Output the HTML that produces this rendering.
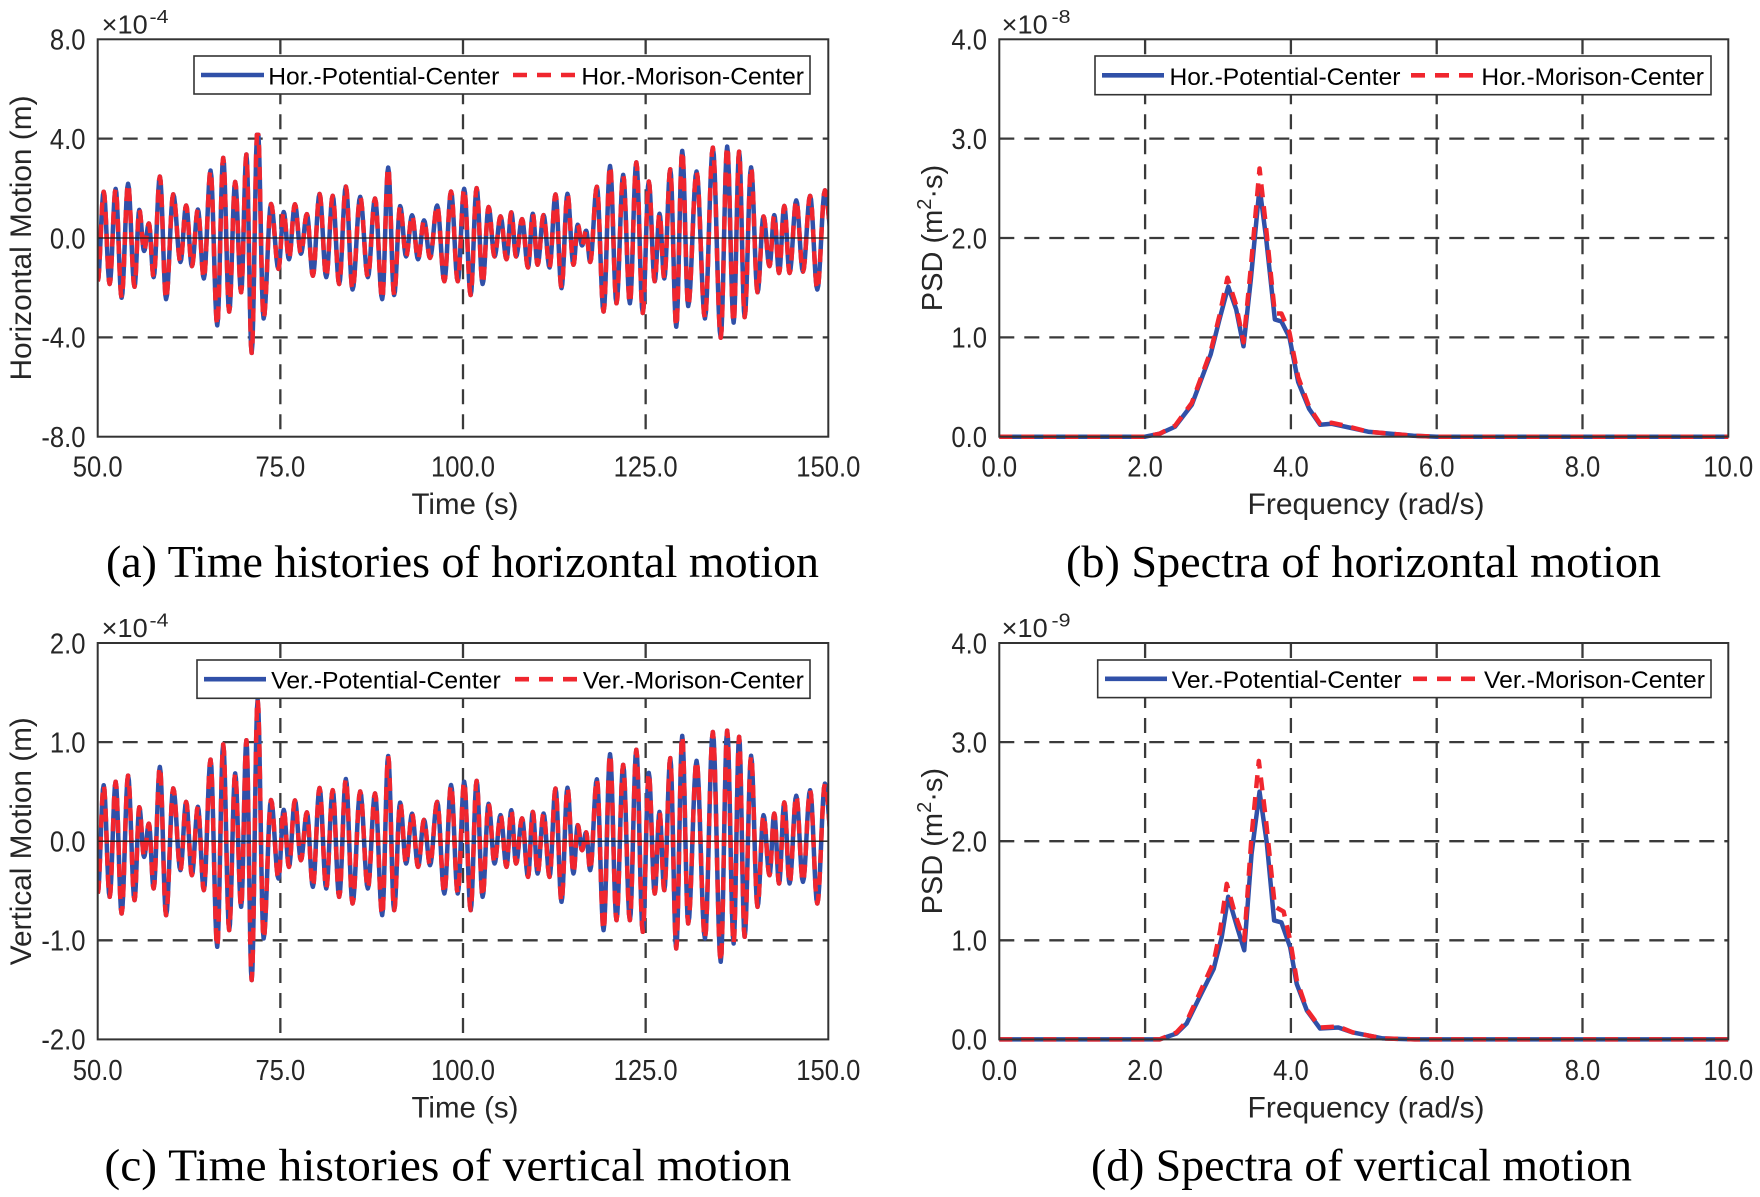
<!DOCTYPE html>
<html><head><meta charset="utf-8">
<style>
html,body{margin:0;padding:0;background:#fff;}
svg{display:block}
text{font-family:"Liberation Sans",Arial,sans-serif;fill:#262626}
.cap{font-family:"Liberation Serif","Times New Roman",serif;fill:#000;font-size:45px}
.tk{font-size:28.5px}
.lg{font-size:24.5px;fill:#000}
.al{font-size:29.5px}
.ex{font-size:26px}
.sp{font-size:18px}
.grid{stroke:#3a3a3a;stroke-width:2.3;stroke-dasharray:15 10;fill:none}
.zero{stroke:#1a1a1a;stroke-width:1.3;fill:none}
.ax{stroke:#333;stroke-width:2;fill:none}
.blue{stroke:#3050a8;stroke-width:4.5;fill:none;stroke-linejoin:round}
.red{stroke:#f0262e;stroke-width:4.5;fill:none;stroke-dasharray:13 9;stroke-linejoin:round}
.lb{stroke:#3050a8;stroke-width:4.6;fill:none}
.lr{stroke:#f0262e;stroke-width:4.6;fill:none;stroke-dasharray:14 10}
.lbox{fill:#fff;stroke:#333;stroke-width:1.6}
</style></head><body>
<svg id="s" width="1760" height="1197" viewBox="0 0 1760 1197" xmlns="http://www.w3.org/2000/svg">
<defs>
<clipPath id="ca"><rect x="97.7" y="30" width="730.6" height="415"/></clipPath>
<clipPath id="cc"><rect x="97.7" y="634" width="730.6" height="415"/></clipPath>
</defs>
<rect x="0" y="0" width="1760" height="1197" fill="#fff"/>

<!-- ========== PANEL A ========== -->
<g>
<line class="grid" x1="280.35" y1="39.3" x2="280.35" y2="436.7"/>
<line class="grid" x1="463" y1="39.3" x2="463" y2="436.7"/>
<line class="grid" x1="645.65" y1="39.3" x2="645.65" y2="436.7"/>
<line class="grid" x1="97.7" y1="138.6" x2="828.3" y2="138.6"/>
<line class="grid" x1="97.7" y1="337.4" x2="828.3" y2="337.4"/>
</g>
<g id="sa"></g>
<line class="zero" x1="97.7" y1="238" x2="828.3" y2="238"/>
<rect class="lbox" x="194" y="56" width="616" height="38"/>
<line class="lb" x1="201" y1="75" x2="264" y2="75"/>
<text class="lg" x="268.3" y="84.6" textLength="231" lengthAdjust="spacingAndGlyphs">Hor.-Potential-Center</text>
<line class="lr" x1="513" y1="75" x2="576" y2="75"/>
<text class="lg" x="581.4" y="84.6" textLength="222.6" lengthAdjust="spacingAndGlyphs">Hor.-Morison-Center</text>
<rect class="ax" x="97.7" y="39.3" width="730.6" height="397.4"/>
<text class="tk" x="49.9" y="49.6" textLength="35.6" lengthAdjust="spacingAndGlyphs">8.0</text>
<text class="tk" x="49.9" y="148.9" textLength="35.6" lengthAdjust="spacingAndGlyphs">4.0</text>
<text class="tk" x="49.9" y="248.3" textLength="35.6" lengthAdjust="spacingAndGlyphs">0.0</text>
<text class="tk" x="41.4" y="347.7" textLength="44.1" lengthAdjust="spacingAndGlyphs">-4.0</text>
<text class="tk" x="41.4" y="447" textLength="44.1" lengthAdjust="spacingAndGlyphs">-8.0</text>
<text class="tk" x="72.8" y="476.5" textLength="49.8" lengthAdjust="spacingAndGlyphs">50.0</text>
<text class="tk" x="255.45" y="476.5" textLength="49.8" lengthAdjust="spacingAndGlyphs">75.0</text>
<text class="tk" x="431" y="476.5" textLength="64" lengthAdjust="spacingAndGlyphs">100.0</text>
<text class="tk" x="613.65" y="476.5" textLength="64" lengthAdjust="spacingAndGlyphs">125.0</text>
<text class="tk" x="796.3" y="476.5" textLength="64" lengthAdjust="spacingAndGlyphs">150.0</text>
<text class="ex" x="101.7" y="33.3" textLength="46" lengthAdjust="spacingAndGlyphs">×10</text>
<text class="sp" x="149.5" y="23" textLength="19" lengthAdjust="spacingAndGlyphs">-4</text>
<text class="al" transform="translate(31,238) rotate(-90)" x="-142.5" y="0" textLength="285" lengthAdjust="spacingAndGlyphs">Horizontal Motion (m)</text>
<text class="al" x="411.5" y="514" textLength="107" lengthAdjust="spacingAndGlyphs">Time (s)</text>
<text class="cap" x="106" y="577" textLength="713" lengthAdjust="spacingAndGlyphs">(a) Time histories of horizontal motion</text>

<!-- ========== PANEL B ========== -->
<g>
<line class="grid" x1="1145.1" y1="39.3" x2="1145.1" y2="436.7"/>
<line class="grid" x1="1290.9" y1="39.3" x2="1290.9" y2="436.7"/>
<line class="grid" x1="1436.7" y1="39.3" x2="1436.7" y2="436.7"/>
<line class="grid" x1="1582.5" y1="39.3" x2="1582.5" y2="436.7"/>
<line class="grid" x1="999.3" y1="138.65" x2="1728.3" y2="138.65"/>
<line class="grid" x1="999.3" y1="238" x2="1728.3" y2="238"/>
<line class="grid" x1="999.3" y1="337.35" x2="1728.3" y2="337.35"/>
</g>
<g id="sb"></g>
<rect class="lbox" x="1095" y="56" width="616" height="38.7"/>
<line class="lb" x1="1102" y1="75.3" x2="1164" y2="75.3"/>
<text class="lg" x="1169.5" y="84.8" textLength="231" lengthAdjust="spacingAndGlyphs">Hor.-Potential-Center</text>
<line class="lr" x1="1411" y1="75.3" x2="1475" y2="75.3"/>
<text class="lg" x="1481.4" y="84.8" textLength="222.6" lengthAdjust="spacingAndGlyphs">Hor.-Morison-Center</text>
<rect class="ax" x="999.3" y="39.3" width="729" height="397.4"/>
<text class="tk" x="951.4" y="49.6" textLength="35.6" lengthAdjust="spacingAndGlyphs">4.0</text>
<text class="tk" x="951.4" y="148.9" textLength="35.6" lengthAdjust="spacingAndGlyphs">3.0</text>
<text class="tk" x="951.4" y="248.3" textLength="35.6" lengthAdjust="spacingAndGlyphs">2.0</text>
<text class="tk" x="951.4" y="347.7" textLength="35.6" lengthAdjust="spacingAndGlyphs">1.0</text>
<text class="tk" x="951.4" y="447" textLength="35.6" lengthAdjust="spacingAndGlyphs">0.0</text>
<text class="tk" x="981.5" y="476.5" textLength="35.6" lengthAdjust="spacingAndGlyphs">0.0</text>
<text class="tk" x="1127.3" y="476.5" textLength="35.6" lengthAdjust="spacingAndGlyphs">2.0</text>
<text class="tk" x="1273.1" y="476.5" textLength="35.6" lengthAdjust="spacingAndGlyphs">4.0</text>
<text class="tk" x="1418.9" y="476.5" textLength="35.6" lengthAdjust="spacingAndGlyphs">6.0</text>
<text class="tk" x="1564.7" y="476.5" textLength="35.6" lengthAdjust="spacingAndGlyphs">8.0</text>
<text class="tk" x="1703.4" y="476.5" textLength="49.8" lengthAdjust="spacingAndGlyphs">10.0</text>
<text class="ex" x="1001.7" y="33.3" textLength="46" lengthAdjust="spacingAndGlyphs">×10</text>
<text class="sp" x="1051.5" y="23" textLength="19" lengthAdjust="spacingAndGlyphs">-8</text>
<text class="al" transform="translate(942,238) rotate(-90)" x="0" y="0" text-anchor="middle" style="font-size:29px">PSD (m<tspan baseline-shift="super" style="font-size:20px">2</tspan>·s)</text>
<text class="al" x="1247.5" y="514" textLength="237" lengthAdjust="spacingAndGlyphs">Frequency (rad/s)</text>
<text class="cap" x="1066" y="577" textLength="595" lengthAdjust="spacingAndGlyphs">(b) Spectra of horizontal motion</text>

<!-- ========== PANEL C ========== -->
<g>
<line class="grid" x1="280.35" y1="643" x2="280.35" y2="1039.4"/>
<line class="grid" x1="463" y1="643" x2="463" y2="1039.4"/>
<line class="grid" x1="645.65" y1="643" x2="645.65" y2="1039.4"/>
<line class="grid" x1="97.7" y1="742.1" x2="828.3" y2="742.1"/>
<line class="grid" x1="97.7" y1="940.3" x2="828.3" y2="940.3"/>
</g>
<g id="sc"></g>
<line class="zero" x1="97.7" y1="841.2" x2="828.3" y2="841.2"/>
<rect class="lbox" x="197" y="660" width="613" height="38.3"/>
<line class="lb" x1="204" y1="679.2" x2="266" y2="679.2"/>
<text class="lg" x="271.2" y="688.5" textLength="229.5" lengthAdjust="spacingAndGlyphs">Ver.-Potential-Center</text>
<line class="lr" x1="515" y1="679.2" x2="577" y2="679.2"/>
<text class="lg" x="582.9" y="688.5" textLength="221" lengthAdjust="spacingAndGlyphs">Ver.-Morison-Center</text>
<rect class="ax" x="97.7" y="643" width="730.6" height="396.4"/>
<text class="tk" x="49.9" y="653.3" textLength="35.6" lengthAdjust="spacingAndGlyphs">2.0</text>
<text class="tk" x="49.9" y="752.4" textLength="35.6" lengthAdjust="spacingAndGlyphs">1.0</text>
<text class="tk" x="49.9" y="851.5" textLength="35.6" lengthAdjust="spacingAndGlyphs">0.0</text>
<text class="tk" x="41.4" y="950.6" textLength="44.1" lengthAdjust="spacingAndGlyphs">-1.0</text>
<text class="tk" x="41.4" y="1049.7" textLength="44.1" lengthAdjust="spacingAndGlyphs">-2.0</text>
<text class="tk" x="72.8" y="1080.2" textLength="49.8" lengthAdjust="spacingAndGlyphs">50.0</text>
<text class="tk" x="255.45" y="1080.2" textLength="49.8" lengthAdjust="spacingAndGlyphs">75.0</text>
<text class="tk" x="431" y="1080.2" textLength="64" lengthAdjust="spacingAndGlyphs">100.0</text>
<text class="tk" x="613.65" y="1080.2" textLength="64" lengthAdjust="spacingAndGlyphs">125.0</text>
<text class="tk" x="796.3" y="1080.2" textLength="64" lengthAdjust="spacingAndGlyphs">150.0</text>
<text class="ex" x="101.7" y="637" textLength="46" lengthAdjust="spacingAndGlyphs">×10</text>
<text class="sp" x="149.5" y="626.5" textLength="19" lengthAdjust="spacingAndGlyphs">-4</text>
<text class="al" transform="translate(31,841.2) rotate(-90)" x="-124" y="0" textLength="248" lengthAdjust="spacingAndGlyphs">Vertical Motion (m)</text>
<text class="al" x="411.5" y="1117.7" textLength="107" lengthAdjust="spacingAndGlyphs">Time (s)</text>
<text class="cap" x="104.4" y="1180.7" textLength="687" lengthAdjust="spacingAndGlyphs">(c) Time histories of vertical motion</text>

<!-- ========== PANEL D ========== -->
<g>
<line class="grid" x1="1145.1" y1="643" x2="1145.1" y2="1039.4"/>
<line class="grid" x1="1290.9" y1="643" x2="1290.9" y2="1039.4"/>
<line class="grid" x1="1436.7" y1="643" x2="1436.7" y2="1039.4"/>
<line class="grid" x1="1582.5" y1="643" x2="1582.5" y2="1039.4"/>
<line class="grid" x1="999.3" y1="742.1" x2="1728.3" y2="742.1"/>
<line class="grid" x1="999.3" y1="841.2" x2="1728.3" y2="841.2"/>
<line class="grid" x1="999.3" y1="940.3" x2="1728.3" y2="940.3"/>
</g>
<g id="sd"></g>
<rect class="lbox" x="1097.7" y="660" width="613.3" height="37.6"/>
<line class="lb" x1="1105" y1="678.8" x2="1167" y2="678.8"/>
<text class="lg" x="1171.7" y="688" textLength="230" lengthAdjust="spacingAndGlyphs">Ver.-Potential-Center</text>
<line class="lr" x1="1413" y1="678.8" x2="1477" y2="678.8"/>
<text class="lg" x="1484" y="688" textLength="221" lengthAdjust="spacingAndGlyphs">Ver.-Morison-Center</text>
<rect class="ax" x="999.3" y="643" width="729" height="396.4"/>
<text class="tk" x="951.4" y="653.3" textLength="35.6" lengthAdjust="spacingAndGlyphs">4.0</text>
<text class="tk" x="951.4" y="752.4" textLength="35.6" lengthAdjust="spacingAndGlyphs">3.0</text>
<text class="tk" x="951.4" y="851.5" textLength="35.6" lengthAdjust="spacingAndGlyphs">2.0</text>
<text class="tk" x="951.4" y="950.6" textLength="35.6" lengthAdjust="spacingAndGlyphs">1.0</text>
<text class="tk" x="951.4" y="1049.7" textLength="35.6" lengthAdjust="spacingAndGlyphs">0.0</text>
<text class="tk" x="981.5" y="1080.2" textLength="35.6" lengthAdjust="spacingAndGlyphs">0.0</text>
<text class="tk" x="1127.3" y="1080.2" textLength="35.6" lengthAdjust="spacingAndGlyphs">2.0</text>
<text class="tk" x="1273.1" y="1080.2" textLength="35.6" lengthAdjust="spacingAndGlyphs">4.0</text>
<text class="tk" x="1418.9" y="1080.2" textLength="35.6" lengthAdjust="spacingAndGlyphs">6.0</text>
<text class="tk" x="1564.7" y="1080.2" textLength="35.6" lengthAdjust="spacingAndGlyphs">8.0</text>
<text class="tk" x="1703.4" y="1080.2" textLength="49.8" lengthAdjust="spacingAndGlyphs">10.0</text>
<text class="ex" x="1001.7" y="637" textLength="46" lengthAdjust="spacingAndGlyphs">×10</text>
<text class="sp" x="1051.5" y="626.5" textLength="19" lengthAdjust="spacingAndGlyphs">-9</text>
<text class="al" transform="translate(942,841.2) rotate(-90)" x="0" y="0" text-anchor="middle" style="font-size:29px">PSD (m<tspan baseline-shift="super" style="font-size:20px">2</tspan>·s)</text>
<text class="al" x="1247.5" y="1117.7" textLength="237" lengthAdjust="spacingAndGlyphs">Frequency (rad/s)</text>
<text class="cap" x="1091" y="1180.7" textLength="541" lengthAdjust="spacingAndGlyphs">(d) Spectra of vertical motion</text>
</svg>

<script>
(function(){
var NS="http://www.w3.org/2000/svg";
function addPath(gid,d,cls,clip){
  var p=document.createElementNS(NS,"path");
  p.setAttribute("d",d);p.setAttribute("class",cls);
  if(clip)p.setAttribute("clip-path","url(#"+clip+")");
  document.getElementById(gid).appendChild(p);
}
function toD(pts){
  var s="";
  for(var i=0;i<pts.length;i++){s+=(i?"L":"M")+pts[i][0].toFixed(2)+" "+pts[i][1].toFixed(2);}
  return s;
}
function interp(A,x){
  if(x<=A[0][0])return A[0][1];
  for(var i=1;i<A.length;i++){
    if(x<=A[i][0]){var t=(x-A[i-1][0])/(A[i][0]-A[i-1][0]);return A[i-1][1]+t*(A[i][1]-A[i-1][1]);}
  }
  return A[A.length-1][1];
}
var T=[[15,790],[40,800],[65,850],[92,810],[112,680],[132,775],[158,855],[188,720],[212,735],[237,780],[265,950],[290,900],[315,830],[337,1050],[362,925],[393,745],[415,710],[440,690],[465,770],[493,775],[520,800],[548,820],[580,775],[610,855],[635,840],[660,700],[685,710],[710,705],[740,790],[768,790],[795,840],[820,800],[845,700],[870,710],[890,700],[915,740],[935,730],[960,740],[985,815],[1010,730],[1028,660],[1045,720],[1073,900],[1100,870],[1128,870],[1155,905],[1180,790],[1200,780],[1225,955],[1250,880],[1285,925],[1318,995],[1345,940],[1368,920],[1395,830],[1420,735],[1440,760],[1462,760],[1490,755],[1520,820],[1552,650]];
var P=[[28,465],[52,455],[77,430],[103,535],[120,595],[145,410],[170,470],[200,515],[225,530],[250,390],[277,340],[300,440],[325,335],[350,205],[378,515],[403,540],[428,510],[455,550],[480,470],[507,480],[535,445],[565,485],[598,490],[623,375],[648,520],[672,550],[697,570],[725,515],[752,465],[780,455],[805,445],[832,520],[857,555],[880,540],[902,565],[925,545],[948,550],[972,475],[997,470],[1020,590],[1036,610],[1060,440],[1085,370],[1115,405],[1140,355],[1165,415],[1190,545],[1212,385],[1240,310],[1272,405],[1303,300],[1330,300],[1357,320],[1383,380],[1407,555],[1430,550],[1452,515],[1478,495],[1505,480],[1535,460]];
var pts=[];
for(var i=0;i<T.length-1;i++){
  var x0=T[i][0],y0=T[i][1],x2=T[i+1][0],y2=T[i+1][1];
  var xm=(x0+x2)/2,ym=interp(P,xm);
  var segs=[[x0,y0,xm,ym],[xm,ym,x2,y2]];
  for(var j=0;j<2;j++){
    var a=segs[j][0],b=segs[j][1],c=segs[j][2],d=segs[j][3];
    for(var k=(pts.length?1:0);k<=8;k++){
      var s=k/8;
      pts.push([a+(c-a)*s,b+(d-b)*(1-Math.cos(Math.PI*s))/2]);
    }
  }
}
var pc=[],pa=[];
for(var i=0;i<pts.length;i++){
  var x=97.7+(pts[i][0]-15)*0.47814;
  var v=(633-pts[i][1])/297.5;
  pc.push([x,841.2-v*99.1]);
  var va=v*3.3; if(va>4.15)va=4.15;
  pa.push([x,238-va*24.84]);
}
var dA=toD(pa),dC=toD(pc);
addPath("sa",dA,"blue","ca");addPath("sa",dA,"red","ca");
addPath("sc",dC,"blue","cc");addPath("sc",dC,"red","cc");

var Bb=[[0,0],[2.0,0],[2.2,0.03],[2.41,0.1],[2.64,0.32],[2.9,0.83],[3.02,1.18],[3.14,1.51],[3.25,1.28],[3.35,0.91],[3.45,1.58],[3.57,2.51],[3.66,2.0],[3.78,1.18],[3.87,1.16],[3.98,1.0],[4.1,0.55],[4.25,0.28],[4.4,0.12],[4.56,0.13],[4.75,0.1],[5.06,0.05],[5.68,0.01],[6.0,0],[10,0]];
var Br=[[0,0],[2.0,0],[2.2,0.03],[2.41,0.11],[2.64,0.34],[2.9,0.86],[3.02,1.22],[3.13,1.6],[3.25,1.32],[3.35,0.95],[3.45,1.7],[3.57,2.7],[3.66,2.1],[3.78,1.24],[3.87,1.24],[3.98,1.05],[4.1,0.6],[4.25,0.3],[4.4,0.13],[4.56,0.14],[4.75,0.11],[5.06,0.05],[5.68,0.01],[6.0,0],[10,0]];
var Db=[[0,0],[2.0,0],[2.2,0],[2.43,0.06],[2.57,0.16],[2.75,0.43],[2.94,0.71],[3.05,1.03],[3.14,1.44],[3.26,1.14],[3.36,0.9],[3.46,1.87],[3.57,2.5],[3.67,1.98],[3.77,1.2],[3.87,1.18],[3.99,0.93],[4.08,0.56],[4.22,0.29],[4.4,0.11],[4.65,0.12],[4.85,0.07],[5.26,0.01],[5.7,0],[10,0]];
var Dr=[[0,0],[2.0,0],[2.2,0],[2.43,0.07],[2.57,0.18],[2.75,0.47],[2.94,0.78],[3.03,1.1],[3.12,1.57],[3.24,1.25],[3.36,1.0],[3.46,2.05],[3.56,2.81],[3.66,2.2],[3.78,1.34],[3.9,1.29],[3.99,1.0],[4.08,0.6],[4.22,0.3],[4.4,0.12],[4.65,0.13],[4.85,0.07],[5.26,0.01],[5.7,0],[10,0]];
function spec(arr,y0,sc){
  var o=[];for(var i=0;i<arr.length;i++){o.push([999.3+arr[i][0]*72.9,y0-arr[i][1]*sc]);}return toD(o);
}
addPath("sb",spec(Bb,436.7,99.35),"blue");addPath("sb",spec(Br,436.7,99.35),"red");
addPath("sd",spec(Db,1039.4,99.1),"blue");addPath("sd",spec(Dr,1039.4,99.1),"red");
})();
</script>
</body></html>
